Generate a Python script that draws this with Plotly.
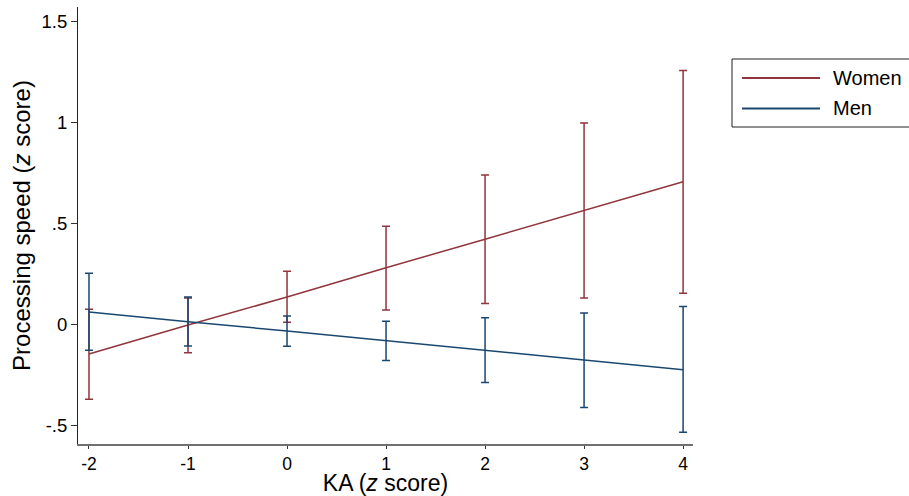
import plotly.graph_objects as go

# ---- data ----
ka = [-2, -1, 0, 1, 2, 3, 4]
series_names = ["Women", "Men"]
women_mean = [-0.146, -0.003, 0.136, 0.281, 0.422, 0.564, 0.707]
women_lo = [-0.370, -0.140, 0.011, 0.071, 0.104, 0.131, 0.154]
women_hi = [0.075, 0.131, 0.264, 0.486, 0.740, 0.998, 1.257]
men_mean = [0.062, 0.013, -0.032, -0.081, -0.128, -0.176, -0.224]
men_lo = [-0.128, -0.107, -0.108, -0.178, -0.288, -0.411, -0.534]
men_hi = [0.254, 0.136, 0.042, 0.016, 0.033, 0.057, 0.089]
x_ticks = [-2, -1, 0, 1, 2, 3, 4]
x_ticktext = ["-2", "-1", "0", "1", "2", "3", "4"]
y_ticks = [-0.5, 0, 0.5, 1, 1.5]
y_ticktext = ["-.5", "0", ".5", "1", "1.5"]

colors = {"Women": "#90353B", "Men": "#1A476F"}
FONT = "Liberation Sans, Arial, Helvetica, sans-serif"

W, H = 909, 496
ML, MR, MT, MB = 78, 216, 7, 52

fig = go.Figure()

def add_series(name, mean, lo, hi):
    c = colors[name]
    fig.add_trace(go.Scatter(
        x=ka, y=mean, mode="lines", name=name,
        line=dict(color=c, width=1.5),
        error_y=dict(type="data", symmetric=False,
                     array=[h - m for h, m in zip(hi, mean)],
                     arrayminus=[m - l for m, l in zip(mean, lo)],
                     color=c, thickness=1.5, width=4),
        showlegend=False,
    ))

add_series("Women", women_mean, women_lo, women_hi)
add_series("Men", men_mean, men_lo, men_hi)

# legend drawn as a box (extends past right edge as in reference)
pw = W - ML - MR
ph = H - MT - MB
def px_x(p):
    return (p - ML) / pw
def px_y(p):
    return (H - MB - p) / ph

shapes = [dict(type="rect", xref="paper", yref="paper",
               x0=px_x(732), x1=px_x(925), y0=px_y(127), y1=px_y(59),
               line=dict(color="#222222", width=1), fillcolor="white", layer="above")]
annotations = []
for i, name in enumerate(series_names):
    yy = 78 + i * 30.5
    shapes.append(dict(type="line", xref="paper", yref="paper",
                       x0=px_x(742), x1=px_x(820), y0=px_y(yy), y1=px_y(yy),
                       line=dict(color=colors[name], width=2), layer="above"))
    annotations.append(dict(xref="paper", yref="paper", x=px_x(831), y=px_y(yy),
                            text=name, showarrow=False, xanchor="left", yanchor="middle",
                            font=dict(family=FONT, size=20, color="black")))

fig.update_layout(
    width=W, height=H,
    margin=dict(l=ML, r=MR, t=MT, b=MB),
    paper_bgcolor="white", plot_bgcolor="white",
    font=dict(family=FONT, color="black"),
    shapes=shapes, annotations=annotations,
    xaxis=dict(range=[-2.111, 4.1], tickvals=x_ticks, ticktext=x_ticktext, automargin=False,
               showgrid=False, zeroline=False, showline=True, linecolor="#707070", linewidth=2,
               ticks="outside", ticklen=3, tickcolor="#333333", tickwidth=1,
               tickfont=dict(size=17.5, family=FONT),
               title=dict(text="KA (<i>z</i> score)", font=dict(size=23, family=FONT), standoff=2)),
    yaxis=dict(range=[-0.592, 1.572], tickvals=y_ticks, ticktext=y_ticktext, automargin=False,
               showgrid=False, zeroline=False, showline=True, linecolor="#222222", linewidth=1,
               ticks="outside", ticklen=6, tickcolor="#333333", tickwidth=1,
               tickfont=dict(size=18.5, family=FONT),
               title=dict(text="Processing speed (<i>z</i> score)", font=dict(size=24, family=FONT), standoff=4)),
)

fig.write_html("out.html", config={"displayModeBar": False},
               post_script="document.body.style.margin='0';document.body.style.overflow='hidden';")
